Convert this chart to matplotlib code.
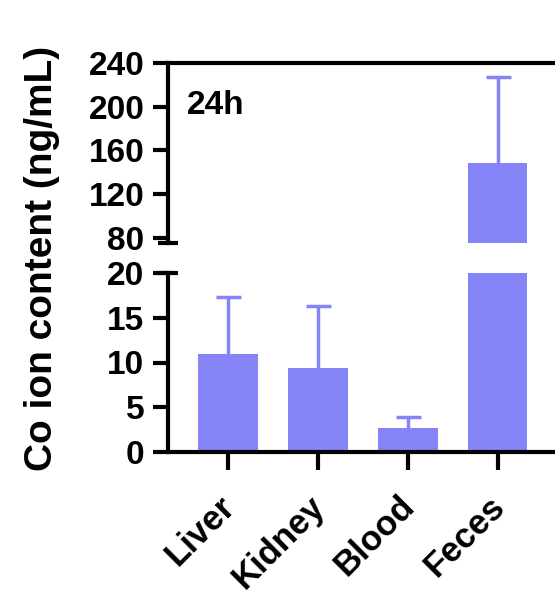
import matplotlib.pyplot as plt
from matplotlib.transforms import offset_copy

plt.rcParams['font.family'] = ['Liberation Sans', 'DejaVu Sans']
plt.rcParams['font.weight'] = 'bold'

organs = ['Liver', 'Kidney', 'Blood', 'Feces']
means = [11.0, 9.4, 2.7, 148.0]
errs = [6.3, 6.9, 1.2, 79.0]

bar_color = '#8585F7'
x = list(range(len(organs)))

fig = plt.figure(figsize=(5.55, 5.92), dpi=100)
ax_top = fig.add_axes([168 / 555, 1 - 243 / 592, 390 / 555, 180 / 592])
ax_bot = fig.add_axes([168 / 555, 1 - 452 / 592, 390 / 555, 179 / 592])

for ax in (ax_top, ax_bot):
    ax.bar(x, means, width=0.66, color=bar_color, zorder=2)
    eb = ax.errorbar(x, means, yerr=[[0] * 4, errs], fmt='none', ecolor=bar_color,
                     elinewidth=2.5, capsize=9, capthick=2.5, zorder=1)
    eb[1][0].set_visible(False)  # hide lower caps
    ax.set_xlim(-0.667, 3.67)
    ax.spines['right'].set_visible(False)
    for s in ax.spines.values():
        s.set_linewidth(3)
    ax.tick_params(axis='y', length=11, width=3, labelsize=24, pad=6)
    ax.tick_params(axis='x', length=13, width=3, labelsize=25, pad=14)

ax_top.set_ylim(75, 240)
ax_top.set_yticks([80, 120, 160, 200, 240])
ax_top.spines['bottom'].set_visible(False)
ax_top.set_xticks([])
ax_top.text(19 / 390, 1 - 43 / 180, '24h', transform=ax_top.transAxes,
            fontsize=24, fontweight='bold', va='center', ha='left')
# break caps
ax_top.plot([-0.025, 0.025], [0, 0], transform=ax_top.transAxes, color='black',
            lw=3, clip_on=False, solid_capstyle='butt')

ax_bot.set_ylim(0, 20)
ax_bot.set_yticks([0, 5, 10, 15, 20])
ax_bot.spines['top'].set_visible(False)
ax_bot.set_xticks(x)
ax_bot.set_xticklabels(organs, rotation=45, ha='right', va='top',
                       rotation_mode='anchor')
for lab in ax_bot.get_xticklabels():
    lab.set_transform(offset_copy(lab.get_transform(), fig=fig, x=-10, y=0,
                                  units='dots'))
ax_bot.plot([-0.025, 0.025], [1, 1], transform=ax_bot.transAxes, color='black',
            lw=3, clip_on=False, solid_capstyle='butt')

fig.text(42 / 555, 1 - 258 / 592, 'Co ion content (ng/mL)', rotation=90,
         fontsize=28, fontweight='bold', ha='center', va='center')

fig.savefig('out.png', dpi=100)
